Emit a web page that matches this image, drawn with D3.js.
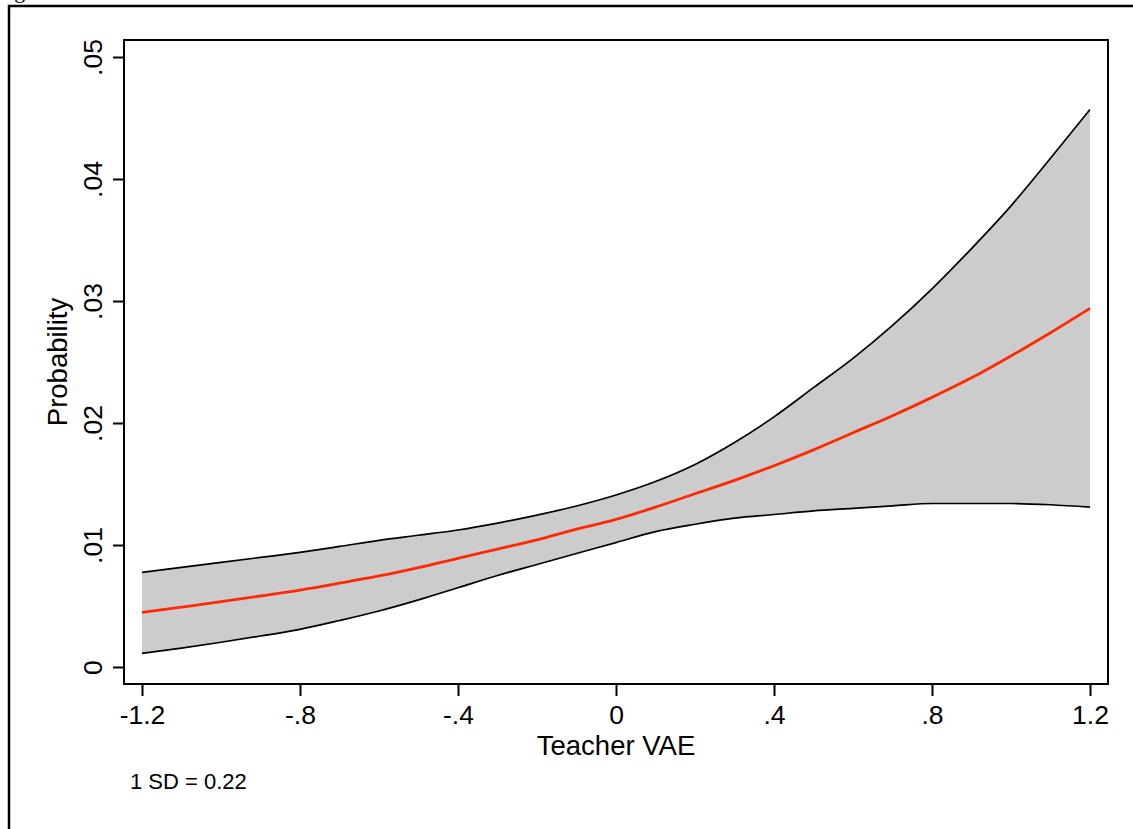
<!DOCTYPE html>
<html>
<head>
<meta charset="utf-8">
<script src="https://cdn.jsdelivr.net/npm/d3@7"></script>
<style>
  body { margin: 0; background: #fff; }
  svg { display: block; font-family: "Liberation Sans", Arial, Helvetica, sans-serif; }
  .axis text { font-size: 26.5px; fill: #000; }
  .axis line { stroke: #000; stroke-width: 2px; }
</style>
</head>
<body>
<div id="chart"></div>
<script>
// teacher value-added (x) and predicted probability with 95% band
const vae = [-1.2, -1.1, -1.0, -0.9, -0.8, -0.7, -0.6, -0.5, -0.4, -0.3, -0.2, -0.1,
             0, 0.1, 0.2, 0.3, 0.4, 0.5, 0.6, 0.7, 0.8, 0.9, 1.0, 1.1, 1.2];
const prob = [0.00448, 0.00491, 0.00535, 0.00582, 0.00631, 0.00687, 0.00746, 0.00815, 0.00891,
              0.00966, 0.01042, 0.0113, 0.0121, 0.0131, 0.0142, 0.0153, 0.0165, 0.0178, 0.0192,
              0.0206, 0.0221, 0.0237, 0.0255, 0.0274, 0.0294];
const upper = [0.00776, 0.00817, 0.00857, 0.00898, 0.0094, 0.00988, 0.01038, 0.0108, 0.01123,
               0.0118, 0.01245, 0.0132, 0.0141, 0.0152, 0.0166, 0.0184, 0.0205, 0.0229, 0.0253,
               0.0280, 0.0310, 0.0343, 0.0378, 0.0417, 0.0457];
const lower = [0.00112, 0.00155, 0.00203, 0.00254, 0.00309, 0.00381, 0.00459, 0.0055, 0.0065,
               0.0075, 0.0084, 0.0093, 0.0102, 0.0111, 0.0117, 0.0122, 0.0125, 0.0128, 0.0130,
               0.0132, 0.0134, 0.0134, 0.0134, 0.0133, 0.0131];

const xTicks = [-1.2, -0.8, -0.4, 0, 0.4, 0.8, 1.2];
const xTickLabels = ['-1.2', '-.8', '-.4', '0', '.4', '.8', '1.2'];
const yTicks = [0, 0.01, 0.02, 0.03, 0.04, 0.05];
const yTickLabels = ['0', '.01', '.02', '.03', '.04', '.05'];

const size = { w: 1133, h: 829 };
const plot = { left: 124, right: 1108, top: 40, bottom: 684 };

const svg = d3.select('#chart').append('svg')
    .attr('width', size.w)
    .attr('height', size.h);

// caption above the frame, cut off by the page edge
svg.append('text')
    .attr('x', -4)
    .attr('y', -2)
    .style('font-family', '"Liberation Serif", "Times New Roman", serif')
    .style('font-size', '22px')
    .text('Figure');

// outer frame (only top and left edges are in view)
svg.append('path')
    .attr('d', `M9,${size.h} V6 H${size.w}`)
    .attr('fill', 'none')
    .attr('stroke', '#000')
    .attr('stroke-width', 2.5);

const x = d3.scaleLinear().domain([-1.2, 1.2]).range([142, 1090]);
const y = d3.scaleLinear().domain([0, 0.05]).range([667, 57]);

const data = vae.map((v, i) => ({ x: v, p: prob[i], hi: upper[i], lo: lower[i] }));

svg.append('path')
    .datum(data)
    .attr('fill', '#cccccc')
    .attr('d', d3.area().curve(d3.curveMonotoneX)
        .x(d => x(d.x)).y0(d => y(d.lo)).y1(d => y(d.hi)));

const line = key => d3.line().curve(d3.curveMonotoneX).x(d => x(d.x)).y(d => y(d[key]));

svg.append('path')
    .datum(data)
    .attr('fill', 'none')
    .attr('stroke', '#000')
    .attr('stroke-width', 1.7)
    .attr('d', line('hi'));

svg.append('path')
    .datum(data)
    .attr('fill', 'none')
    .attr('stroke', '#000')
    .attr('stroke-width', 1.7)
    .attr('d', line('lo'));

svg.append('path')
    .datum(data)
    .attr('fill', 'none')
    .attr('stroke', '#ff2a00')
    .attr('stroke-width', 2.8)
    .attr('d', line('p'));

// plot region border
svg.append('rect')
    .attr('x', plot.left)
    .attr('y', plot.top)
    .attr('width', plot.right - plot.left)
    .attr('height', plot.bottom - plot.top)
    .attr('fill', 'none')
    .attr('stroke', '#000')
    .attr('stroke-width', 2);

const gx = svg.append('g')
    .attr('class', 'axis axis-x')
    .attr('transform', `translate(0, ${plot.bottom})`)
    .call(d3.axisBottom(x)
        .tickValues(xTicks)
        .tickFormat((d, i) => xTickLabels[i])
        .tickSize(12)
        .tickPadding(9));
gx.select('.domain').remove();

const gy = svg.append('g')
    .attr('class', 'axis axis-y')
    .attr('transform', `translate(${plot.left}, 0)`)
    .call(d3.axisLeft(y)
        .tickValues(yTicks)
        .tickFormat((d, i) => yTickLabels[i])
        .tickSize(11));
gy.select('.domain').remove();
gy.selectAll('.tick text')
    .attr('x', null)
    .attr('dy', null)
    .attr('text-anchor', 'middle')
    .attr('transform', 'translate(-22, 0) rotate(-90)');

svg.append('text')
    .attr('x', (plot.left + plot.right) / 2)
    .attr('y', 755)
    .attr('text-anchor', 'middle')
    .style('font-size', '27.5px')
    .text('Teacher VAE');

svg.append('text')
    .attr('transform', `translate(67, ${(plot.top + plot.bottom) / 2}) rotate(-90)`)
    .attr('text-anchor', 'middle')
    .style('font-size', '27.5px')
    .text('Probability');

svg.append('text')
    .attr('x', 130)
    .attr('y', 789)
    .style('font-size', '22px')
    .text('1 SD = 0.22');
</script>
</body>
</html>
